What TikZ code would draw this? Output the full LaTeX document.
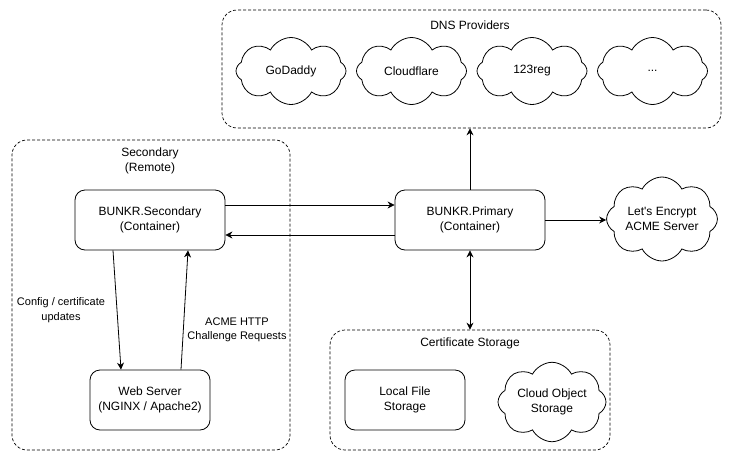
\documentclass[tikz,border=0pt]{standalone}
\usepackage{fontspec}
\setmainfont{Liberation Sans}
\usetikzlibrary{arrows.meta,shapes.symbols,positioning}

\begin{document}
\begin{tikzpicture}[x=1pt, y=-1pt, node distance=120.5pt,
    font=\fontsize{12}{14.5}\selectfont,
    group/.style={draw, line width=0.7pt, dash pattern=on 3pt off 2pt, rounded corners=15pt, inner sep=0pt},
    box/.style={draw, line width=0.8pt, rounded corners=10pt, align=center, minimum width=150pt, minimum height=60pt},
    puff/.style={draw, line width=0.8pt, cloud, cloud puffs=8, cloud puff arc=125, aspect=1.6, align=center, inner sep=0pt, minimum width=110pt, minimum height=67pt},
    small/.style={align=center, font=\fontsize{11}{14.5}\selectfont},
    lnk/.style={line width=0.8pt, -{Stealth[length=7pt,width=7pt]}}]

    \useasboundingbox (0,0) rectangle (731,461);

    % groups
    \node [group, minimum width=499pt, minimum height=118pt] (dns) at (471.5,69) {};
    \node [group, minimum width=278pt, minimum height=310pt] (remote) at (151,295) {};
    \node [group, minimum width=280pt, minimum height=120pt] (store) at (470,390) {};

    \node (dnslbl) at (470,25) {DNS Providers};
    \node [align=center] (remotelbl) at (150,161) {Secondary\\(Remote)};
    \node (storelbl) at (470,343) {Certificate Storage};

    % dns providers
    \node [puff] (godaddy) at (291,71) {GoDaddy};
    \node [puff] (cloudflare) [right of=godaddy] {Cloudflare};
    \node [puff] (reg) [right of=cloudflare] {123reg};
    \node [puff] (more) [right of=reg] {...};

    % containers
    \node [box] (sec) at (150,220) {BUNKR.Secondary\\(Container)};
    \node [box] (pri) at (470,220) {BUNKR.Primary\\(Container)};
    \node [box, minimum width=120pt] (web) at (150,400) {Web Server\\(NGINX / Apache2)};
    \node [puff, minimum height=70pt] (acme) at (662,219) {Let\textquotesingle s Encrypt\\ACME Server};

    % storage
    \node [box, minimum width=120pt] (local) at (405,400) {Local File\\Storage};
    \node [puff, minimum width=108pt, minimum height=70pt] (cloudobj) at (552,402) {Cloud Object\\Storage};

    \draw[lnk] ([yshift=15pt]sec.east) -- ([yshift=15pt]pri.west);
    \draw[lnk] ([yshift=-15pt]pri.west) -- ([yshift=-15pt]sec.east);
    \draw[lnk] ([xshift=-37pt]sec.south) -- ([xshift=-29pt]web.north);
    \draw[lnk] ([xshift=31pt]web.north) -- ([xshift=38pt]sec.south);
    \draw[lnk] (pri.north) -- (pri.north |- dns.south);
    \draw[lnk] (pri.east) -- (pri.east -| acme.west);
    \draw[lnk, {Stealth[length=7pt,width=7pt]}-{Stealth[length=7pt,width=7pt]}] (pri.south) -- (pri.south |- store.north);

    \node [small] (cfglbl) at (61,310) {Config / certificate\\updates};
    \node [small] (httplbl) at (237,330) {ACME HTTP\\Challenge Requests};

\end{tikzpicture}
\end{document}
